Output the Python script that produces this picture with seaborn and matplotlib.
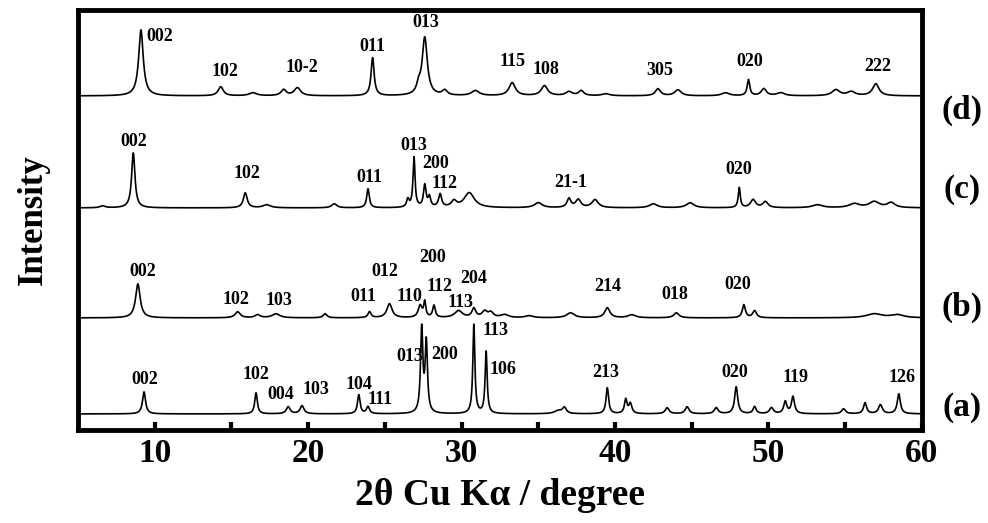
import numpy as np
import pandas as pd
import matplotlib
matplotlib.use("Agg")
import matplotlib.pyplot as plt
import seaborn as sns

# ---------------- data ----------------
# peak positions (2theta, deg), apparent heights (arb.), half widths (deg)
pos_a = [9.3, 16.6, 18.7, 19.6, 23.3, 23.9, 27.4, 27.7, 30.8, 31.6, 36.3, 36.7, 39.5,
         40.7, 41.0, 43.4, 44.7, 46.6, 47.9, 49.1, 50.2, 51.1, 51.6, 54.9, 56.3, 57.3, 58.5]
hgt_a = [22, 21, 7, 8, 19, 7, 84, 70, 89, 62, 3, 6, 26,
         14, 10, 6, 7, 6, 27, 7, 6, 12, 17, 5, 11, 9, 20]
wid_a = [0.12, 0.10, 0.15, 0.15, 0.10, 0.12, 0.09, 0.09, 0.08, 0.08, 0.3, 0.15, 0.10,
         0.10, 0.12, 0.15, 0.15, 0.15, 0.12, 0.12, 0.15, 0.12, 0.12, 0.15, 0.12, 0.15, 0.12]

pos_b = [8.9, 15.4, 16.7, 17.9, 21.1, 24.0, 25.3, 27.3, 27.6, 28.2, 29.8, 30.8, 31.5,
         31.9, 32.8, 34.4, 37.1, 39.5, 41.1, 44.0, 48.4, 49.1, 56.9, 58.4]
hgt_b = [34, 6, 3, 4, 4, 6, 14, 12, 15, 12, 7, 9, 6,
         5, 3, 2, 5, 10, 3, 5, 13, 7, 4, 3]
wid_b = [0.18, 0.2, 0.2, 0.3, 0.15, 0.12, 0.2, 0.15, 0.08, 0.1, 0.3, 0.15, 0.2,
         0.2, 0.3, 0.3, 0.3, 0.2, 0.3, 0.2, 0.12, 0.15, 0.6, 0.5]

pos_c = [6.6, 8.6, 15.9, 17.3, 21.7, 23.9, 26.5, 26.9, 27.6, 27.9, 28.6, 29.5, 30.5,
         35.0, 37.0, 37.6, 38.7, 42.5, 44.9, 48.1, 49.0, 49.8, 53.2, 55.6, 56.9, 58.0]
hgt_c = [2, 55, 15, 3, 4, 19, 8, 50, 22, 10, 13, 6, 15,
         5, 9, 8, 8, 4, 5, 20, 8, 6, 3, 4, 6, 5]
wid_c = [0.2, 0.13, 0.15, 0.3, 0.2, 0.1, 0.1, 0.08, 0.1, 0.1, 0.12, 0.2, 0.4,
         0.3, 0.15, 0.2, 0.25, 0.3, 0.3, 0.08, 0.2, 0.2, 0.4, 0.4, 0.4, 0.3]

pos_d = [9.1, 14.3, 16.4, 18.4, 19.3, 24.2, 27.2, 27.6, 28.9, 30.9, 33.3, 35.4, 37.0,
         37.8, 39.4, 42.8, 44.1, 47.2, 48.7, 49.7, 50.8, 54.4, 55.4, 57.0]
hgt_d = [66, 9, 3, 6, 8, 38, 8, 58, 5, 5, 13, 10, 4,
         5, 2, 7, 6, 3, 16, 7, 3, 6, 4, 12]
wid_d = [0.18, 0.2, 0.3, 0.2, 0.25, 0.12, 0.15, 0.2, 0.2, 0.3, 0.25, 0.25, 0.25,
         0.2, 0.3, 0.2, 0.25, 0.3, 0.1, 0.2, 0.3, 0.3, 0.3, 0.25]

# vertical offsets (baselines) of the stacked patterns
base_a = 16
base_b = 112
base_c = 222
base_d = 334

# peak (hkl) labels: text, 2theta position, height in plot units
lab_a = ["002", "102", "004", "103", "104", "111", "013", "200", "113", "106",
         "213", "020", "119", "126"]
lx_a = [9.35, 16.6, 18.2, 20.5, 23.3, 24.7, 26.6, 28.9, 32.2, 32.7, 39.4, 47.8, 51.8, 58.7]
ly_a = [50, 55, 35, 40, 45, 30, 73, 75, 99, 60, 57, 57, 52, 52]

lab_b = ["002", "102", "103", "011", "012", "110", "200", "112", "113", "204",
         "214", "018", "020"]
lx_b = [9.2, 15.3, 18.1, 23.6, 25.0, 26.6, 28.1, 28.55, 29.9, 30.8, 39.5, 43.9, 48.0]
ly_b = [158, 130, 129, 133, 158, 133, 172, 143, 127, 151, 143, 135, 145]

lab_c = ["002", "102", "011", "013", "200", "112", "21-1", "020"]
lx_c = [8.6, 16.0, 24.0, 26.9, 28.3, 28.9, 37.1, 48.1]
ly_c = [288, 256, 252, 284, 266, 246, 247, 260]

lab_d = ["002", "102", "10-2", "011", "013", "115", "108", "305", "020", "222"]
lx_d = [10.3, 14.55, 19.6, 24.2, 27.7, 33.3, 35.5, 42.9, 48.8, 57.1]
ly_d = [393, 358, 362, 383, 407, 368, 360, 359, 368, 363]

panel_names = ["(a)", "(b)", "(c)", "(d)"]
panel_y = [22, 123, 240, 320]

x_ticks = [10, 20, 30, 40, 50, 60]
x_minor = [15, 25, 35, 45, 55]

# ---------------- build profiles ----------------
tt = np.linspace(5, 60, 5501)


def profile(pos, hgt, wid, base):
    y = np.full_like(tt, float(base))
    for p, h, w in zip(pos, hgt, wid):
        y += h / (1.0 + ((tt - p) / w) ** 2)
    return y


patterns = {
    "a": profile(pos_a, hgt_a, wid_a, base_a),
    "b": profile(pos_b, hgt_b, wid_b, base_b),
    "c": profile(pos_c, hgt_c, wid_c, base_c),
    "d": profile(pos_d, hgt_d, wid_d, base_d),
}

# ---------------- plot ----------------
sns.set_style("white")
plt.rcParams["font.family"] = ["Liberation Serif", "DejaVu Serif"]
plt.rcParams["font.weight"] = "bold"
plt.rcParams["text.color"] = "black"
plt.rcParams["axes.labelcolor"] = "black"
plt.rcParams["xtick.color"] = "black"
plt.rcParams["ytick.color"] = "black"

fig = plt.figure(figsize=(9.88, 5.23), dpi=100)
ax = fig.add_axes([0.079, 0.178, 0.854, 0.803])

for key, y in patterns.items():
    df = pd.DataFrame({"two_theta": tt, "intensity": y})
    sns.lineplot(data=df, x="two_theta", y="intensity", ax=ax, color="black",
                 lw=1.2, estimator=None, sort=False)

for labs, lx, ly in [(lab_a, lx_a, ly_a), (lab_b, lx_b, ly_b),
                     (lab_c, lx_c, ly_c), (lab_d, lx_d, ly_d)]:
    for t, x, y in zip(labs, lx, ly):
        ax.text(x, y, t, ha="center", va="center", fontsize=13,
                fontweight="bold", color="black")

trans = ax.get_yaxis_transform()
for name, y in zip(panel_names, panel_y):
    ax.text(1.048, y, name, transform=trans, ha="center", va="center",
            fontsize=24, fontweight="bold", clip_on=False, color="black")

ax.set_xlim(5, 60)
ax.set_ylim(0, 420)
ax.set_xticks(x_ticks)
ax.set_xticks(x_minor, minor=True)
ax.set_xticklabels([str(v) for v in x_ticks])
ax.set_yticks([])
ax.set_xlabel("")
ax.set_ylabel("")
ax.tick_params(axis="x", which="both", direction="in", length=6, width=3,
               bottom=True, top=False, labelsize=24, pad=6, color="black",
               labelcolor="black")
for sp in ax.spines.values():
    sp.set_linewidth(3.5)
    sp.set_color("black")

ax.set_xlabel("2θ Cu Kα / degree", fontsize=27, fontweight="bold", labelpad=6,
              color="black")
ax.set_ylabel("Intensity", fontsize=25, fontweight="bold", labelpad=20,
              color="black")

fig.savefig("out.png", dpi=100)
